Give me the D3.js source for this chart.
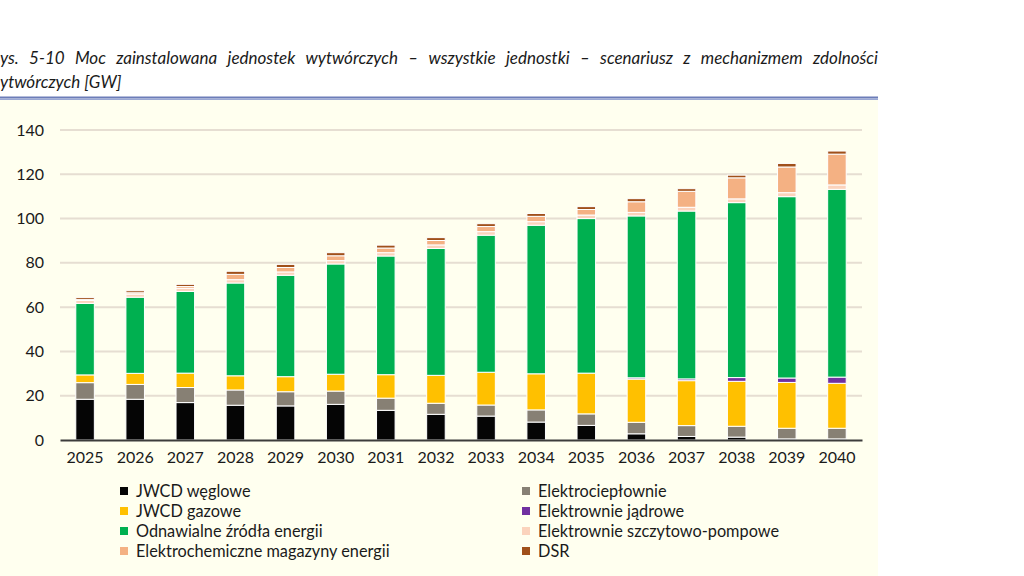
<!DOCTYPE html>
<html><head><meta charset="utf-8">
<script src="https://cdn.jsdelivr.net/npm/d3@7"></script>
<style>
html,body{margin:0;padding:0;background:#fff;}
svg{display:block;}
text{font-family:Lato,"Open Sans",sans-serif;fill:#1a1a1a;}
</style></head>
<body>
<svg id="c" width="1024" height="576"></svg>
<script>
const years = ["2025","2026","2027","2028","2029","2030","2031","2032","2033","2034","2035","2036","2037","2038","2039","2040"];
const seriesNames = ["JWCD węglowe","Elektrociepłownie","JWCD gazowe","Elektrownie jądrowe","Odnawialne źródła energii","Elektrownie szczytowo-pompowe","Elektrochemiczne magazyny energii","DSR"];
const jwcdWeglowe   = [18.4,18.4,16.9,15.7,15.4,16.1,13.4,11.6,10.8,8.1,6.6,2.8,1.6,1.3,0.5,0.5];
const elektrocieplo = [7.5,6.7,6.8,6.9,6.4,6.0,5.5,5.0,5.0,5.5,5.2,5.2,4.9,4.9,4.8,4.8];
const jwcdGazowe    = [3.5,5.0,6.5,6.4,6.8,7.6,10.6,12.6,14.8,16.3,18.4,19.5,20.3,20.3,20.7,20.3];
const jadrowe       = [0,0,0,0,0,0,0,0,0,0,0,0.6,0.8,1.7,2.0,2.8];
const oze           = [32.3,34.4,36.9,41.9,45.8,49.8,53.6,57.3,61.9,67.1,69.8,73.1,75.8,79.0,81.9,84.8];
const pompowe       = [1.3,1.4,1.4,1.5,1.5,1.5,1.5,1.6,1.6,1.6,1.6,1.6,1.7,1.7,1.8,2.0];
const magazyny      = [0.4,0.6,0.8,2.4,2.0,2.2,2.1,2.0,2.3,2.4,2.5,4.8,7.2,9.5,11.6,13.9];
const dsr           = [0.9,0.9,1.0,1.4,1.4,1.4,1.3,1.3,1.3,1.3,1.3,1.4,1.2,1.2,1.6,1.4];
const yTicks = [0,20,40,60,80,100,120,140];
const titleLine1 = "ys. 5-10 Moc zainstalowana jednostek wytwórczych – wszystkie jednostki – scenariusz z mechanizmem zdolności";
const titleLine2 = "ytwórczych [GW]";

const colors = ["#050505","#878074","#FFC000","#7030A0","#00B050","#FBD3BC","#F4B183","#A0501A"];
const seriesData = [jwcdWeglowe,elektrocieplo,jwcdGazowe,jadrowe,oze,pompowe,magazyny,dsr];

const svg = d3.select("#c");
svg.append("rect").attr("x",0).attr("y",100).attr("width",878).attr("height",476).attr("fill","#FFFFEF");
svg.append("rect").attr("x",0).attr("y",96.5).attr("width",878).attr("height",2).attr("fill","#6C7DB8");
svg.append("rect").attr("x",0).attr("y",98.5).attr("width",878).attr("height",1.5).attr("fill","#9AA8D4");

function justified(str, x0, x1, y){
  const words = str.split(" ");
  const g = svg.append("g");
  const nodes = words.map(w => g.append("text").attr("y",y).style("font-style","italic").style("font-size","17px").text(w));
  const widths = nodes.map(n => n.node().getComputedTextLength());
  const total = d3.sum(widths);
  const gap = (x1 - x0 - total)/(words.length-1);
  let xx = x0;
  nodes.forEach((n,i)=>{ n.attr("x",xx); xx += widths[i] + gap; });
}
justified(titleLine1, 0, 878, 64);
svg.append("text").attr("x",0).attr("y",88).style("font-style","italic").style("font-size","17px").text(titleLine2);

const x = d3.scaleBand().domain(years).range([60,862]).paddingInner(0.63).paddingOuter(0.315);
const y = d3.scaleLinear().domain([0,140]).range([440,130]);

svg.append("g").selectAll("line").data(yTicks.filter(d=>d>0)).join("line")
  .attr("x1",60).attr("x2",862).attr("y1",d=>y(d)).attr("y2",d=>y(d))
  .attr("stroke","#E6DED2").attr("stroke-width",2);

const yAxis = d3.axisLeft(y).tickValues(yTicks).tickSize(0).tickPadding(0);
const ya = svg.append("g").attr("transform","translate(44,0)").call(yAxis);
ya.select(".domain").remove();
ya.selectAll("text").style("font-size","16px").style("font-family","Lato,sans-serif").attr("fill","#1a1a1a");

const table = years.map((yr,i)=>{ const o={year:yr}; seriesNames.forEach((s,k)=>o[s]=seriesData[k][i]); return o; });
const stack = d3.stack().keys(seriesNames)(table);
svg.append("g").selectAll("g").data(stack).join("g").attr("fill",(d,i)=>colors[i])
  .selectAll("rect").data(d=>d).join("rect")
  .attr("x",d=>x(d.data.year)).attr("width",x.bandwidth())
  .attr("y",d=>y(d[1])).attr("height",d=>Math.max(0,y(d[0])-y(d[1])))
  .attr("stroke","#FFFFFF").attr("stroke-width",1);

const xAxis = d3.axisBottom(x).tickSize(0).tickPadding(12);
const xa = svg.append("g").attr("transform","translate(0,440)").call(xAxis);
xa.select(".domain").attr("stroke","#3c3c3c").attr("stroke-width",2);
xa.selectAll("text").style("font-size","16px").style("font-family","Lato,sans-serif").attr("fill","#1a1a1a");

const leg = svg.append("g");
seriesNames.forEach((name,i)=>{
  const col = i%2, row = Math.floor(i/2);
  const lx = col===0 ? 120 : 522;
  const ly = 491 + row*20;
  leg.append("rect").attr("x",lx).attr("y",ly-4).attr("width",8).attr("height",8).attr("fill",colors[i]);
  leg.append("text").attr("x",lx+16).attr("y",ly).attr("dy","0.35em").style("font-size","16.3px").text(name);
});
</script>
</body></html>
